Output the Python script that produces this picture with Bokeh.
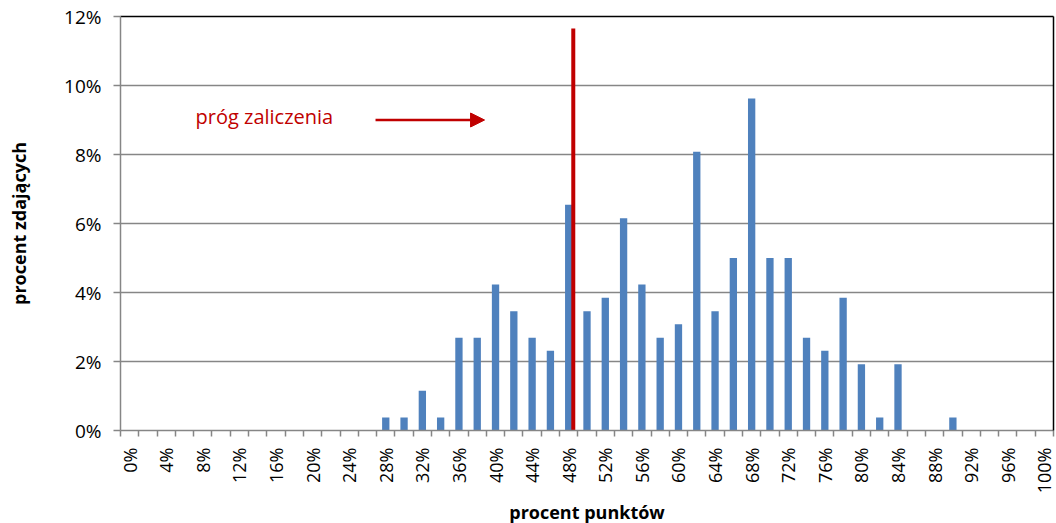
import math
from bokeh.plotting import figure
from bokeh.models import (Range1d, FixedTicker, LinearAxis, PrintfTickFormatter,
                          Label, Arrow, NormalHead)
from bokeh.embed import file_html
from bokeh.resources import INLINE

# ---- data ----
score_pct = list(range(0, 101, 2))            # categories: 0%,2%,...,100%
share_pct = [0, 0, 0, 0, 0, 0, 0, 0, 0, 0, 0, 0, 0, 0,
             0.38, 0.38, 1.15, 0.38, 2.69, 2.69, 4.23, 3.46, 2.69, 2.31,
             6.54, 3.46, 3.85, 6.15, 4.23, 2.69, 3.08, 8.08, 3.46, 5.00,
             9.62, 5.00, 5.00, 2.69, 2.31, 3.85, 1.92, 0.38, 1.92, 0,
             0, 0.38, 0, 0, 0, 0, 0]
x_tick_labels = [f"{v}%" for v in score_pct[::2]]
y_ticks = [0, 2, 4, 6, 8, 10, 12]
threshold_pct = 48.5
threshold_line_top = 11.65
annotation_text = "próg zaliczenia"

idx = list(range(len(score_pct)))
FONT = "Open Sans"
RED = "#C00000"
GRAY = "#868686"

p = figure(frame_width=933, frame_height=414, output_backend="svg",
           toolbar_location=None, x_range=Range1d(-0.5, len(idx) - 0.5),
           y_range=Range1d(0, 12), min_border_left=120, min_border_top=16,
           min_border_right=3, min_border_bottom=93, outline_line_color=None,
           background_fill_color="white", border_fill_color="white")

p.vbar(x=idx, top=share_pct, width=0.4, fill_color="#4F81BD", line_color=None)

# x axis
xa = p.xaxis[0]
xa.ticker = FixedTicker(ticks=idx[::2], minor_ticks=[i - 0.5 for i in range(len(idx) + 1)])
xa.major_label_overrides = {i: lab for i, lab in zip(idx[::2], x_tick_labels)}
xa.major_label_orientation = math.pi / 2
xa.major_tick_out = 0
xa.major_tick_in = 0
xa.minor_tick_out = 6
xa.minor_tick_in = 0
xa.minor_tick_line_color = GRAY
xa.minor_tick_line_width = 1.5
xa.axis_line_color = GRAY
xa.axis_line_width = 1.5
xa.major_label_text_font = FONT
xa.major_label_text_font_size = "18px"
xa.major_label_text_color = "black"
xa.major_label_standoff = 11
xa.axis_label = "procent punktów"
xa.axis_label_text_font = FONT
xa.axis_label_text_font_style = "bold"
xa.axis_label_text_font_size = "18px"
xa.axis_label_text_color = "black"
xa.axis_label_standoff = 4

# y axis
ya = p.yaxis[0]
ya.ticker = FixedTicker(ticks=y_ticks)
ya.formatter = PrintfTickFormatter(format="%d%%")
ya.major_tick_out = 7
ya.major_tick_in = 0
ya.minor_tick_line_color = None
ya.major_tick_line_color = GRAY
ya.major_tick_line_width = 1.5
ya.axis_line_color = GRAY
ya.axis_line_width = 1.5
ya.major_label_text_font = FONT
ya.major_label_text_font_size = "19px"
ya.major_label_text_color = "black"
ya.major_label_standoff = 12
ya.axis_label = "procent zdających"
ya.axis_label_text_font = FONT
ya.axis_label_text_font_style = "bold"
ya.axis_label_text_font_size = "18px"
ya.axis_label_text_color = "black"
ya.axis_label_standoff = 30

p.xgrid.grid_line_color = None
p.ygrid.ticker = FixedTicker(ticks=y_ticks[1:-1])
p.ygrid.grid_line_color = GRAY
p.ygrid.grid_line_width = 1.5

# black frame on top and right
for side in ("above", "right"):
    ax = LinearAxis(ticker=FixedTicker(ticks=[]), axis_line_color="black",
                    axis_line_width=1.5, major_tick_line_color=None,
                    minor_tick_line_color=None, major_label_text_font_size="0px",
                    major_tick_out=0, major_label_standoff=0)
    p.add_layout(ax, side)

# pass threshold line
thr_x = threshold_pct / 2
p.segment(x0=[thr_x], y0=[0], x1=[thr_x], y1=[threshold_line_top],
          line_color=RED, line_width=4)

# annotation
p.add_layout(Label(x=3.6, y=9.1, text=annotation_text, text_font=FONT,
                   text_font_size="20px", text_color=RED, text_baseline="middle",
                   text_align="left"))
p.add_layout(Arrow(end=NormalHead(size=14, fill_color=RED, line_color=RED),
                   x_start=13.44, y_start=9.0, x_end=19.4, y_end=9.0,
                   line_color=RED, line_width=2.5))

open("out.html", "w").write(file_html(p, INLINE))
